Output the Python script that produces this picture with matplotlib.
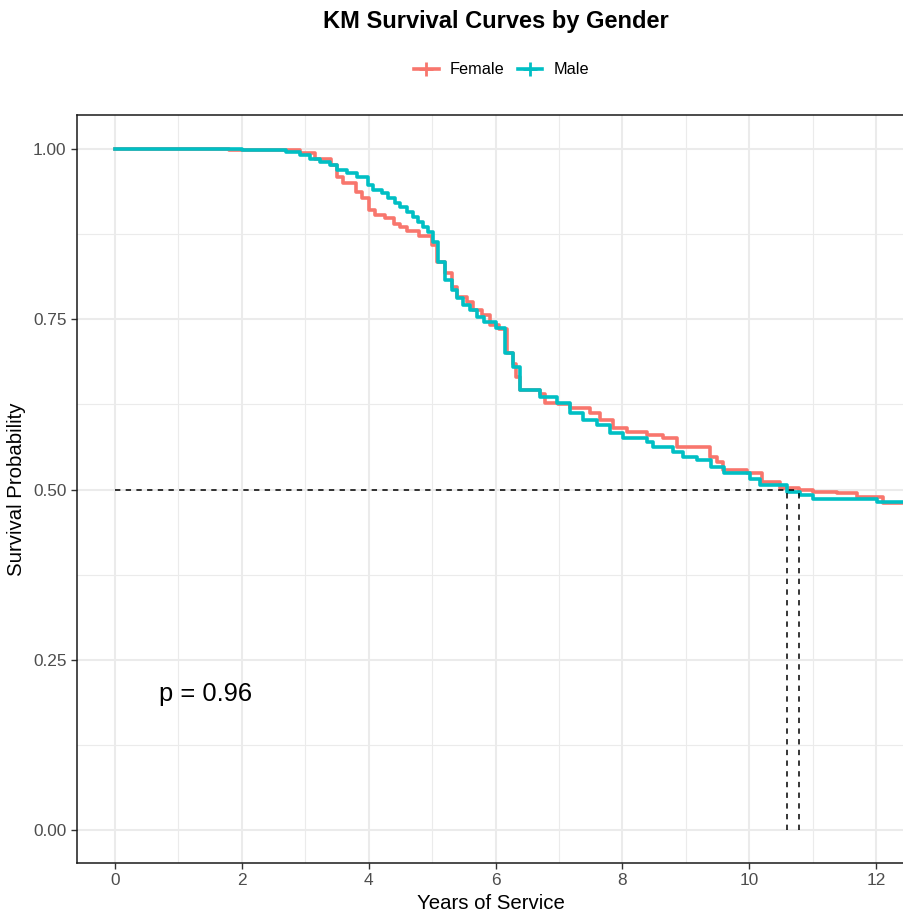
import matplotlib.pyplot as plt
from matplotlib.lines import Line2D
import numpy as np

plt.rcParams['font.family'] = ['Liberation Sans', 'DejaVu Sans']

# KM step curves (time in years, survival probability)
female_t = [0, 1.8, 2.5, 2.92, 3.15, 3.4, 3.5, 3.6, 3.8, 3.9, 4.0, 4.1, 4.25, 4.4, 4.5,
            4.6, 4.8, 5.0, 5.08, 5.2, 5.31, 5.39, 5.55, 5.65, 5.79, 5.91, 6.05, 6.18,
            6.28, 6.33, 6.39, 6.7, 6.78, 6.99, 7.17, 7.49, 7.65, 7.85, 8.07, 8.39,
            8.64, 8.86, 9.38, 9.49, 9.59, 9.97, 10.2, 10.49, 10.79, 11.0, 11.38, 11.7,
            12.11, 12.6]
female_s = [1.0, 0.999, 0.998, 0.994, 0.985, 0.977, 0.959, 0.95, 0.937, 0.928, 0.91, 0.903,
            0.899, 0.89, 0.885, 0.879, 0.872, 0.859, 0.834, 0.818, 0.797, 0.783, 0.775,
            0.764, 0.756, 0.742, 0.735, 0.70, 0.685, 0.665, 0.646, 0.64, 0.627, 0.625,
            0.619, 0.612, 0.602, 0.59, 0.584, 0.58, 0.576, 0.563, 0.548, 0.54, 0.529,
            0.524, 0.511, 0.502, 0.499, 0.496, 0.495, 0.489, 0.48, 0.48]

male_t = [0, 2.0, 2.7, 2.92, 3.07, 3.23, 3.39, 3.5, 3.66, 3.82, 3.99, 4.07, 4.21, 4.3,
          4.42, 4.49, 4.6, 4.7, 4.78, 4.86, 4.94, 5.01, 5.09, 5.2, 5.31, 5.39, 5.49,
          5.6, 5.7, 5.82, 6.0, 6.15, 6.27, 6.39, 6.7, 6.97, 7.17, 7.38, 7.6, 7.8, 8.01,
          8.39, 8.48, 8.8, 8.96, 9.18, 9.4, 9.6, 10.01, 10.17, 10.6, 10.8, 11.0, 12.02,
          12.6]
male_s = [1.0, 0.999, 0.996, 0.991, 0.985, 0.981, 0.977, 0.969, 0.965, 0.959, 0.947, 0.94,
          0.935, 0.928, 0.921, 0.915, 0.907, 0.90, 0.893, 0.885, 0.878, 0.863, 0.834,
          0.808, 0.793, 0.781, 0.771, 0.764, 0.753, 0.746, 0.737, 0.70, 0.68, 0.646,
          0.636, 0.627, 0.612, 0.602, 0.595, 0.583, 0.576, 0.57, 0.563, 0.555, 0.548,
          0.543, 0.533, 0.524, 0.515, 0.507, 0.496, 0.492, 0.486, 0.482, 0.482]

medians = [10.6, 10.79]
groups = ['Female', 'Male']
colors = ['#F8766D', '#00BFC4']
p_label = 'p = 0.96'

fig = plt.figure(figsize=(9.04, 9.15), dpi=100)
ax = fig.add_axes([77/904, 1 - 863/915, 1 - 77/904, (863 - 115)/915])

ax.set_xlim(-0.599, 12.44)
ax.set_ylim(-0.0485, 1.05)

# grid
ax.set_xticks(np.arange(0, 13, 2))
ax.set_xticks(np.arange(1, 13, 2), minor=True)
ax.set_yticks([0, 0.25, 0.5, 0.75, 1.0])
ax.set_yticks([0.125, 0.375, 0.625, 0.875], minor=True)
ax.grid(which='major', color='#EBEBEB', lw=1.5)
ax.grid(which='minor', color='#EBEBEB', lw=0.8)
ax.set_axisbelow(True)

ax.step(female_t, female_s, where='post', color=colors[0], lw=2.6)
ax.step(male_t, male_s, where='post', color=colors[1], lw=2.6)

# median lines
ax.plot([0, max(medians)], [0.5, 0.5], ls=(0, (3.5, 3.5)), color='black', lw=1.1)
for m in medians:
    ax.plot([m, m], [0, 0.5], ls=(0, (3.5, 3.5)), color='black', lw=1.1)

ax.text(0.7, 0.2, p_label, fontsize=18.4, va='center', ha='left')

ax.set_yticklabels(['0.00', '0.25', '0.50', '0.75', '1.00'])
ax.tick_params(which='major', length=4, width=1, color='#333333', labelcolor='#4D4D4D',
               labelsize=12.4)
ax.tick_params(which='minor', length=0)
for side in ['left', 'bottom', 'top']:
    ax.spines[side].set_color('#1a1a1a')
    ax.spines[side].set_linewidth(1.1)
ax.spines['right'].set_visible(False)

ax.set_xlabel('Years of Service', fontsize=14.7, labelpad=4)
ax.set_ylabel('Survival Probability', fontsize=14.7, labelpad=5)

fig.text(0.548, 0.977, 'KM Survival Curves by Gender', fontsize=17, fontweight='bold',
         ha='center', va='center')

handles = [Line2D([], [], color=c, lw=2.6, marker='+', markersize=10, markeredgewidth=2)
           for c in colors]
fig.legend(handles, groups, loc='center', bbox_to_anchor=(0.555, 0.9235), ncol=2,
           frameon=False, fontsize=11.7, handlelength=1.5, handletextpad=0.7,
           columnspacing=0.8)

fig.savefig('out.png', dpi=100)
